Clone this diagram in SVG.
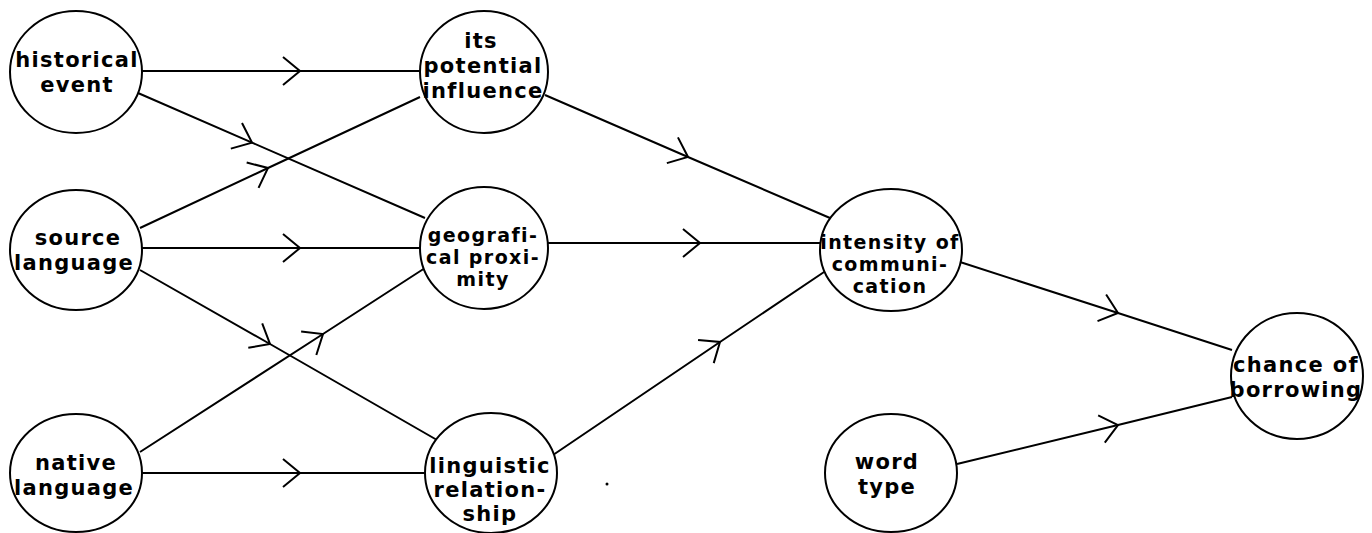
<svg xmlns="http://www.w3.org/2000/svg" width="1372" height="533" viewBox="0 0 1372 533">
<defs>
<style>
.node ellipse{fill:#fff;stroke:#000;stroke-width:2}
.node text{font-family:"DejaVu Sans","Liberation Sans",sans-serif;font-weight:bold;font-size:21px;letter-spacing:1.3px;text-anchor:middle;fill:#000}
.node text.tight{font-size:19px;letter-spacing:1.4px}
.edge{fill:none;stroke:#000;stroke-width:2;marker-mid:url(#chev)}
</style>
<marker id="chev" markerUnits="userSpaceOnUse" markerWidth="40" markerHeight="40" viewBox="-20 -20 40 40" refX="0" refY="0" orient="auto" overflow="visible">
<path d="M -17 -14 L 0 0 L -17 14" fill="none" stroke="#000" stroke-width="2"/>
</marker>
</defs>
<rect width="1372" height="533" fill="#fff"/>
<g id="connectors">
<path class="edge" d="M142 71 L300 71 L420 71"/>
<path class="edge" d="M138 93 L252 142.6 L425 218"/>
<path class="edge" d="M140 228 L268 168 L420 97"/>
<path class="edge" d="M142 248 L300 248 L420 248"/>
<path class="edge" d="M140 270 L270 344 L437 440"/>
<path class="edge" d="M140 452 L323 334 L425 268"/>
<path class="edge" d="M142 473 L300 473 L425 473"/>
<path class="edge" d="M545 95 L688 157 L830 218"/>
<path class="edge" d="M548 243 L700 243 L820 243"/>
<path class="edge" d="M553 455 L720 342 L830 268"/>
<path class="edge" d="M960 262 L1118 313 L1232 350"/>
<path class="edge" d="M957 464 L1118 425 L1232 397"/>
</g>
<g id="historical-event" class="node">
<ellipse cx="76" cy="72" rx="66" ry="61"/>
<text x="77" y="67">historical</text>
<text x="77" y="92">event</text>
</g>
<g id="source-language" class="node">
<ellipse cx="76" cy="250" rx="66" ry="60"/>
<text x="78" y="245">source</text>
<text x="74" y="270">language</text>
</g>
<g id="native-language" class="node">
<ellipse cx="76" cy="473" rx="66" ry="59"/>
<text x="76" y="470">native</text>
<text x="74" y="495">language</text>
</g>
<g id="its-potential-influence" class="node">
<ellipse cx="484" cy="72" rx="64" ry="61"/>
<text x="481" y="48">its</text>
<text x="483" y="73">potential</text>
<text x="483" y="98">influence</text>
</g>
<g id="geografical-proximity" class="node">
<ellipse cx="484" cy="248" rx="64" ry="61"/>
<text class="tight" x="483" y="242">geografi-</text>
<text class="tight" x="483" y="264">cal proxi-</text>
<text class="tight" x="483" y="286">mity</text>
</g>
<g id="linguistic-relationship" class="node">
<ellipse cx="491" cy="473" rx="66" ry="60"/>
<text x="490" y="473">linguistic</text>
<text x="490" y="497">relation-</text>
<text x="490" y="521">ship</text>
</g>
<g id="intensity-of-communication" class="node">
<ellipse cx="891" cy="250" rx="71" ry="61"/>
<text class="tight" x="890" y="249">intensity of</text>
<text class="tight" x="890" y="271">communi-</text>
<text class="tight" x="890" y="293">cation</text>
</g>
<g id="word-type" class="node">
<ellipse cx="891" cy="473" rx="66" ry="59"/>
<text x="887" y="469">word</text>
<text x="887" y="494">type</text>
</g>
<g id="chance-of-borrowing" class="node">
<ellipse cx="1297" cy="376" rx="66" ry="63"/>
<text x="1296" y="372">chance of</text>
<text x="1296" y="397">borrowing</text>
</g>
<circle cx="607" cy="484" r="1.5" fill="#000"/>
</svg>
